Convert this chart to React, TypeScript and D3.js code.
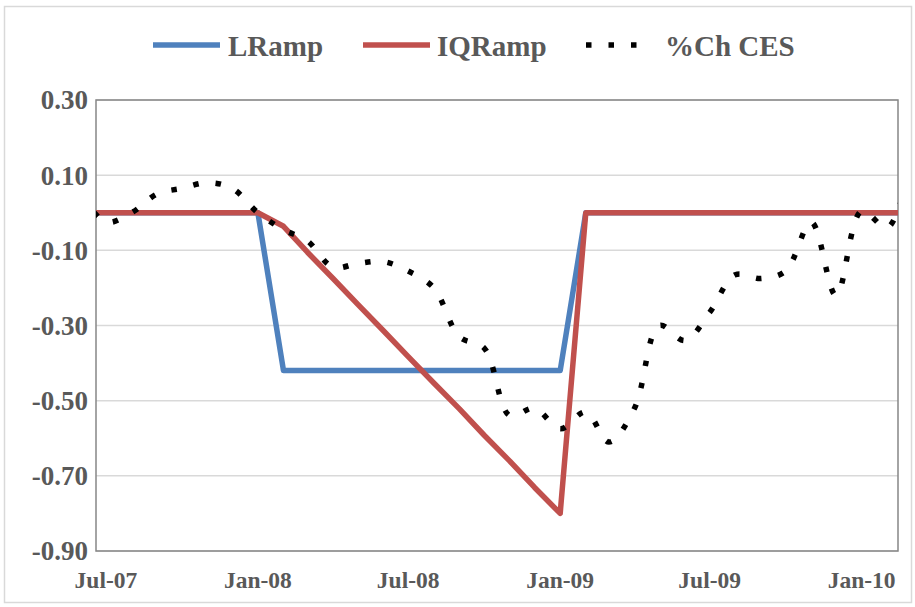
import React from "react";
import * as d3 from "d3";

const months = [
  "Jun-07","Jul-07","Aug-07","Sep-07","Oct-07","Nov-07","Dec-07",
  "Jan-08","Feb-08","Mar-08","Apr-08","May-08","Jun-08","Jul-08","Aug-08","Sep-08","Oct-08","Nov-08","Dec-08",
  "Jan-09","Feb-09","Mar-09","Apr-09","May-09","Jun-09","Jul-09","Aug-09","Sep-09","Oct-09","Nov-09","Dec-09",
  "Jan-10","Feb-10","Mar-10",
];
const lRamp = [
  0, 0, 0, 0, 0, 0, 0,
  0, -0.42, -0.42, -0.42, -0.42, -0.42, -0.42, -0.42, -0.42, -0.42, -0.42, -0.42,
  -0.42, 0, 0, 0, 0, 0, 0, 0, 0, 0, 0, 0,
  0, 0, 0,
];
const iqRamp = [
  0, 0, 0, 0, 0, 0, 0,
  0, -0.036, -0.105, -0.175, -0.244, -0.314, -0.383, -0.453, -0.522, -0.592, -0.661, -0.731,
  -0.8, 0, 0, 0, 0, 0, 0, 0, 0, 0, 0, 0,
  0, 0, 0,
];
const chCES = [
  0.05, -0.025, 0.0, 0.05, 0.065, 0.08, 0.065,
  0.0, -0.045, -0.075, -0.145, -0.135, -0.13, -0.155, -0.2, -0.33, -0.36, -0.54, -0.52,
  -0.575, -0.53, -0.61, -0.52, -0.3, -0.34, -0.265, -0.165, -0.175, -0.155, -0.025, -0.22,
  0.005, -0.04, 0.12,
];
const yTicks = [0.3, 0.1, -0.1, -0.3, -0.5, -0.7, -0.9];
const yTickLabels = ["0.30", "0.10", "-0.10", "-0.30", "-0.50", "-0.70", "-0.90"];
const xTickLabels = ["Jul-07", "Jan-08", "Jul-08", "Jan-09", "Jul-09", "Jan-10"];
const seriesNames = ["LRamp", "IQRamp", "%Ch CES"];

const W = 915, H = 607;
const left = 96, right = 898, top = 100, bottom = 551;
const FONT = "'Liberation Serif', 'Times New Roman', serif";
const GRAY = "#595959";

export default function App() {
  const parse = d3.timeParse("%b-%y");
  const dates = months.map((m) => parse(m) as Date);
  const x = d3.scaleTime()
    .domain([new Date(2007, 5, 19), new Date(2010, 1, 14)])
    .range([left, right]);
  const y = d3.scaleLinear().domain([-0.9, 0.3]).range([bottom, top]);

  const straight = d3.line<number>()
    .x((_, i) => x(dates[i]))
    .y((d) => y(d));
  const smooth = d3.line<number>()
    .x((_, i) => x(dates[i]))
    .y((d) => y(d))
    .curve(d3.curveCatmullRom.alpha(0.5));

  return (
    <svg width={W} height={H} style={{ position: "absolute", left: 0, top: 0, background: "#fff" }}>
      <defs>
        <clipPath id="plot">
          <rect x={left} y={top - 10} width={right - left} height={bottom - top + 20} />
        </clipPath>
      </defs>
      <rect x={0} y={0} width={W} height={H} fill="#fff" />
      <rect x={4.5} y={6.5} width={907} height={596} fill="none" stroke="#d9d9d9" strokeWidth={1.5} />

      {yTicks.map((t) => (
        <line key={t} x1={left} x2={right} y1={y(t)} y2={y(t)} stroke="#d9d9d9" strokeWidth={1.5} />
      ))}
      <rect x={left} y={top} width={right - left} height={bottom - top} fill="none" stroke="#868686" strokeWidth={1.5} />

      {yTicks.map((t, i) => (
        <text key={t} x={88} y={y(t)} dy="0.35em" textAnchor="end" fontFamily={FONT}
          fontWeight="bold" fontSize={27} fill={GRAY}>{yTickLabels[i]}</text>
      ))}
      {xTickLabels.map((l) => (
        <text key={l} x={x(parse(l) as Date)} y={588} textAnchor="middle" fontFamily={FONT}
          fontWeight="bold" fontSize={23.5} fill={GRAY}>{l}</text>
      ))}

      <g clipPath="url(#plot)">
        <path d={straight(lRamp) || ""} fill="none" stroke="#4F81BD" strokeWidth={5.5} strokeLinejoin="round" />
        <path d={straight(iqRamp) || ""} fill="none" stroke="#C0504D" strokeWidth={5.5} strokeLinejoin="round" />
        <path d={smooth(chCES) || ""} fill="none" stroke="#000" strokeWidth={5.5} strokeDasharray="5.5 17" />
      </g>

      <line x1={153} x2={220} y1={45} y2={45} stroke="#4F81BD" strokeWidth={5.5} />
      <text x={228} y={56} fontFamily={FONT} fontWeight="bold" fontSize={29} fill={GRAY}>{seriesNames[0]}</text>
      <line x1={363} x2={430} y1={45} y2={45} stroke="#C0504D" strokeWidth={5.5} />
      <text x={437} y={56} fontFamily={FONT} fontWeight="bold" fontSize={29} fill={GRAY}>{seriesNames[1]}</text>
      <line x1={586} x2={652} y1={45} y2={45} stroke="#000" strokeWidth={5.5} strokeDasharray="5.5 17" />
      <text x={665} y={56} fontFamily={FONT} fontWeight="bold" fontSize={29} fill={GRAY}>{seriesNames[2]}</text>
    </svg>
  );
}
